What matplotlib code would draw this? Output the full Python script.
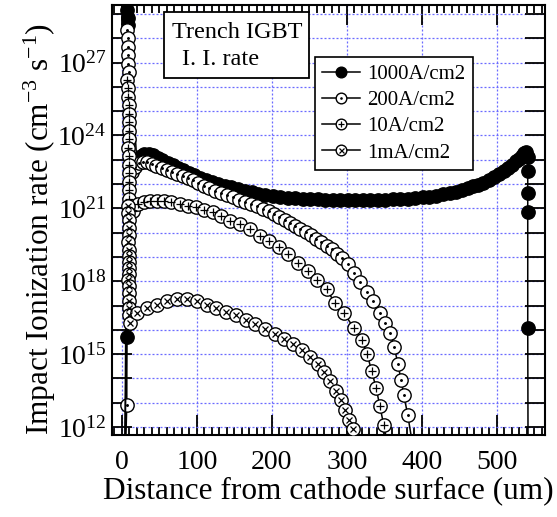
import numpy as np
import matplotlib
matplotlib.use("Agg")
import matplotlib.pyplot as plt
from matplotlib.ticker import FixedLocator, FuncFormatter, MultipleLocator, NullLocator
from matplotlib.lines import Line2D
from matplotlib.legend_handler import HandlerTuple
from matplotlib.patches import Rectangle

plt.rcParams['font.family'] = ['Liberation Serif', 'DejaVu Serif']
plt.rcParams['mathtext.fontset'] = 'custom'
plt.rcParams['mathtext.rm'] = 'Liberation Serif'
plt.rcParams['mathtext.it'] = 'Liberation Serif:italic'
plt.rcParams['mathtext.bf'] = 'Liberation Serif:bold'

# ---------------- data (x in um, values given as log10 of rate) ----------------
labels = ['1000A/cm2', '200A/cm2', '10A/cm2', '1mA/cm2']

x_1000 = [4, 6.6, 7.5, 8, 8.5,
          20, 25, 30, 36, 42, 48, 54, 61, 68, 75, 82, 89, 96, 104, 112, 120, 128,
          137, 146, 155, 164, 173, 182, 191, 201, 211, 221, 231, 241, 251, 261,
          271, 281, 291, 301, 311, 321, 331, 341, 351, 361, 371, 381, 391, 401,
          410, 419, 428, 437, 445, 453, 461, 468, 475, 482, 489, 496, 503, 509,
          515, 520, 525, 529, 533, 536, 539,
          541, 541, 541, 541, 541, 541.5]
e_1000 = [10, 15.7, 29.15, 28.85, 28.55,
          23.0, 23.15, 23.22, 23.25, 23.18, 23.08, 22.98, 22.88, 22.78, 22.67,
          22.57, 22.47, 22.37, 22.26, 22.16, 22.07, 22.0, 21.93, 21.86, 21.79,
          21.72, 21.66, 21.61, 21.56, 21.51, 21.47, 21.44, 21.42, 21.40, 21.38,
          21.37, 21.36, 21.35, 21.35, 21.34, 21.34, 21.34, 21.35, 21.35, 21.36,
          21.37, 21.38, 21.4, 21.42, 21.45, 21.48, 21.52, 21.57, 21.63, 21.69,
          21.75, 21.82, 21.9, 21.97, 22.06, 22.16, 22.27, 22.4, 22.53, 22.66,
          22.8, 22.93, 23.05, 23.17, 23.27, 23.32,
          23.1, 22.55, 21.65, 20.83, 16.08, 10]

x_200 = [4, 6.7, 7.5, 8, 8, 8.5, 8.5, 9,
         13, 18, 23, 28, 34, 40, 46, 53, 60, 67, 74, 81, 88, 95, 102, 109, 116,
         124, 132, 140, 148, 156, 164, 172, 180, 188, 196, 203, 210, 217, 224,
         231, 238, 245, 252, 259, 266, 273, 280, 287, 294, 301, 309, 318, 327,
         335, 344, 351, 358, 363, 368, 372, 376, 381, 388]
e_200 = [10, 12.9, 28.35, 28.0, 27.65, 27.3, 26.95, 26.6,
         22.5, 22.72, 22.85, 22.9, 22.9, 22.84, 22.76, 22.67, 22.58, 22.5, 22.42,
         22.34, 22.25, 22.15, 22.05, 21.93, 21.82, 21.73, 21.64, 21.55, 21.46,
         21.36, 21.26, 21.17, 21.08, 20.99, 20.9, 20.77, 20.65, 20.52, 20.39,
         20.26, 20.14, 20.03, 19.91, 19.75, 19.61, 19.47, 19.31, 19.13, 18.94,
         18.7, 18.35, 17.95, 17.55, 17.2, 16.7, 16.3, 15.87, 15.3, 14.6, 13.95,
         13.3, 12.5, 11.2]

x_10 = [4, 7.5, 8, 8.5, 9, 9.5, 10, 9.5, 9, 8.5, 9, 9.5, 10, 9.5, 9, 9.5,
        15, 22, 30, 38, 47, 56, 66, 77, 88, 99, 110, 121, 132, 144, 157, 171,
        184, 196, 209, 222, 235, 248, 260, 273, 284, 296, 309, 320, 327, 333,
        339, 344, 349, 356]
e_10 = [10, 26.3, 25.95, 25.6, 25.25, 24.9, 24.55, 24.2, 23.85, 23.5, 23.15,
        22.8, 22.45, 22.1, 21.75, 21.4,
        20.9, 21.17, 21.26, 21.3, 21.32, 21.3, 21.25, 21.18, 21.1, 21.04, 20.95,
        20.85, 20.68, 20.48, 20.35, 20.14, 19.86, 19.66, 19.42, 19.11, 18.76,
        18.42, 18.07, 17.66, 17.11, 16.70, 16.08, 15.6, 15.0, 14.3, 13.6, 12.85,
        12.1, 11.0]

x_1m = [4, 8, 8.5, 9, 9.5, 9, 8.5, 9, 9.5, 10, 9.5, 9, 8.5, 9, 9.5, 10, 9.5, 9,
        11, 20, 33, 47, 60, 73, 87, 100, 113, 126, 139, 152, 165, 178, 191, 204,
        216, 228, 240, 251, 261, 270, 278, 285, 292, 298, 303, 308, 315]
e_1m = [10, 21.1, 20.8, 20.5, 20.2, 19.9, 19.6, 19.3, 19.05, 18.8, 18.55, 18.3,
        18.05, 17.8, 17.5, 17.2, 16.9, 16.6,
        16.3, 16.7, 16.9, 17.04, 17.18, 17.25, 17.25, 17.18, 17.03, 16.88,
        16.74, 16.6, 16.42, 16.22, 16.02, 15.82, 15.62, 15.4, 15.17, 14.9, 14.6,
        14.25, 13.9, 13.5, 13.1, 12.7, 12.3, 11.9, 11.0]

x_ticks = [0, 100, 200, 300, 400, 500]
y_label_exps = [12, 15, 18, 21, 24, 27]

# ---------------- figure ----------------
W, H = 557, 517
fig = plt.figure(figsize=(W / 100, H / 100), dpi=100)
ax = fig.add_axes([112 / W, 1 - 435 / H, (545 - 112) / W, (435 - 5) / H])

ms = 9.6
lw = 1.1
mew = 1.0

def pw(e):
    return 10.0 ** np.asarray(e, dtype=float)

# 1000 A/cm2 : filled circles
ax.plot(x_1000, pw(e_1000), color='k', lw=lw, marker='o', ms=ms, mfc='k', mec='k',
        mew=mew, zorder=3)
# 200 A/cm2 : open circle with centre dot
ax.plot(x_200, pw(e_200), color='k', lw=lw, marker='o', ms=ms, mfc='white', mec='k',
        mew=mew, zorder=4)
ax.plot(x_200, pw(e_200), ls='none', marker='.', ms=2.2, color='k', zorder=4)
# 10 A/cm2 : circle with plus
ax.plot(x_10, pw(e_10), color='k', lw=lw, marker='o', ms=ms, mfc='white', mec='k',
        mew=mew, zorder=5)
ax.plot(x_10, pw(e_10), ls='none', marker='+', ms=5.5, mew=0.9, color='k', zorder=5)
# 1 mA/cm2 : circle with cross
ax.plot(x_1m, pw(e_1m), color='k', lw=lw, marker='o', ms=ms, mfc='white', mec='k',
        mew=mew, zorder=6)
ax.plot(x_1m, pw(e_1m), ls='none', marker='x', ms=4.5, mew=0.9, color='k', zorder=6)

# ---------------- axes ----------------
ax.set_yscale('log')
ax.set_xlim(-13, 564)
ax.set_ylim(10 ** 11.67, 10 ** 29.37)

ax.xaxis.set_major_locator(FixedLocator(x_ticks))
ax.xaxis.set_minor_locator(MultipleLocator(10))
ax.yaxis.set_major_locator(FixedLocator(10.0 ** np.arange(11, 31)))
ax.yaxis.set_minor_locator(NullLocator())

def yfmt(v, p):
    k = int(round(np.log10(v)))
    return r'$10^{%d}$' % k if k in y_label_exps else ''

ax.yaxis.set_major_formatter(FuncFormatter(yfmt))

ax.tick_params(which='both', direction='in', top=True, right=True, width=1.3,
               labelsize=20, colors='k')
ax.tick_params(axis='x', which='major', length=14.5, pad=11)
ax.tick_params(axis='x', which='minor', length=5.8)
ax.tick_params(axis='y', which='major', length=14.5, pad=4)

for s in ax.spines.values():
    s.set_linewidth(1.5)

ax.grid(True, which='major', color='#6b6bff', linestyle=(0, (1.6, 1.6)), linewidth=0.9)
ax.set_axisbelow(True)

ax.set_xlabel('Distance from cathode surface (um)', fontsize=22.5, labelpad=1)
ax.set_ylabel(r'Impact Ionization rate (cm$^{-3}$ s$^{-1}$)', fontsize=22.5)
ax.yaxis.set_label_coords(-0.125, 0.48)

# ---------------- annotation box ----------------
ax.add_patch(Rectangle((0.1201, 0.8302), 0.3349, 0.1535, transform=ax.transAxes,
                       fill=True, facecolor='white', edgecolor='k', lw=1.3, zorder=8))
ax.text(0.1386, 0.9372, 'Trench IGBT', transform=ax.transAxes, fontsize=17.5,
        ha='left', va='center', zorder=9)
ax.text(0.1617, 0.8721, 'I. I. rate', transform=ax.transAxes, fontsize=17.5,
        ha='left', va='center', zorder=9)

# ---------------- legend ----------------
h1 = Line2D([], [], color='k', lw=lw, marker='o', ms=ms, mfc='k', mec='k', mew=mew)
h2 = (Line2D([], [], color='k', lw=lw, marker='o', ms=ms, mfc='white', mec='k', mew=mew),
      Line2D([], [], ls='none', marker='.', ms=2.2, color='k'))
h3 = (Line2D([], [], color='k', lw=lw, marker='o', ms=ms, mfc='white', mec='k', mew=mew),
      Line2D([], [], ls='none', marker='+', ms=5.5, mew=0.9, color='k'))
h4 = (Line2D([], [], color='k', lw=lw, marker='o', ms=ms, mfc='white', mec='k', mew=mew),
      Line2D([], [], ls='none', marker='x', ms=4.5, mew=0.9, color='k'))
leg = ax.legend([h1, h2, h3, h4], labels, handler_map={tuple: HandlerTuple(ndivide=1)},
                loc='upper left', bbox_to_anchor=(0.469, 0.879), borderaxespad=0,
                fontsize=15, markerscale=0.8, handlelength=1.8, handletextpad=0.35,
                labelspacing=0.32, borderpad=0.35, fancybox=False, framealpha=1,
                edgecolor='k', numpoints=1)
leg.get_frame().set_linewidth(1.2)
leg.set_zorder(10)

fig.savefig('out.png', dpi=100)
